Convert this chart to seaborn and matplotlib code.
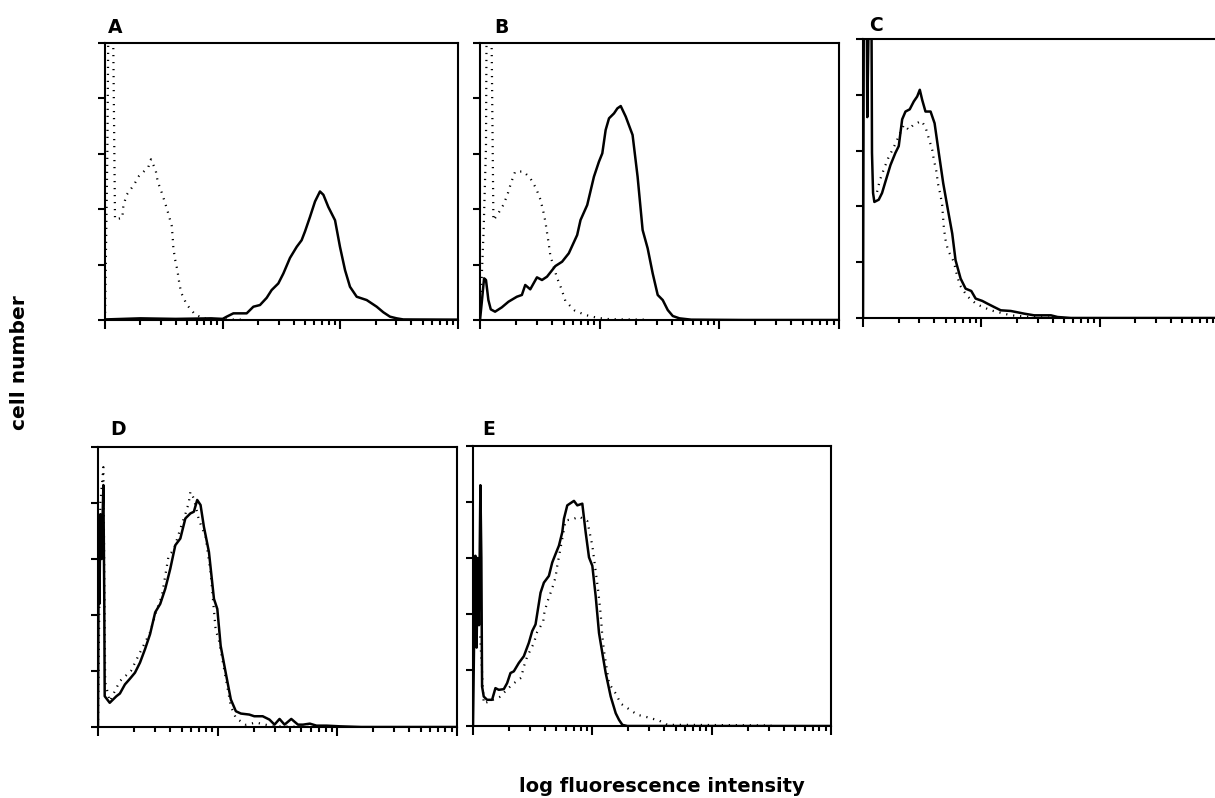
import numpy as np
import pandas as pd
import matplotlib
matplotlib.use("Agg")
import matplotlib.pyplot as plt
import seaborn as sns
from matplotlib.ticker import LogLocator, NullFormatter, FixedLocator

sns.set_theme(style="ticks")
plt.rcParams['font.family'] = ['DejaVu Sans']
plt.rcParams['axes.edgecolor'] = 'black'
plt.rcParams['xtick.color'] = 'black'
plt.rcParams['ytick.color'] = 'black'
plt.rcParams['text.color'] = 'black'

panel_labels = ["A", "B", "C", "D", "E"]
x_label = "log fluorescence intensity"
y_label = "cell number"
y_ticks = [0, 50, 100, 150, 200, 250]

# ---- data: x given in decades of log fluorescence, y = cell number ----
a_solid_log = [0.0, 0.3, 0.6, 0.9, 1.0, 1.034, 1.091, 1.204, 1.261, 1.317, 1.374, 1.416, 1.473, 1.516,
               1.572, 1.629, 1.671, 1.700, 1.742, 1.785, 1.827, 1.856, 1.898, 1.955, 1.997, 2.040,
               2.082, 2.139, 2.224, 2.309, 2.365, 2.422, 2.479, 2.535, 3.0]
a_solid_y = [0.5, 1.5, 1, 1.5, 1, 3, 6, 6, 12, 13.5, 20, 27, 33, 42, 56, 66, 72, 80, 93, 107, 116,
             113, 102, 90, 66, 45, 30, 21, 18, 12, 7, 3, 1.5, 0.5, 0.3]
a_dot_log = [0.0, 0.02, 0.03, 0.065, 0.071, 0.085, 0.147, 0.156, 0.184, 0.246, 0.289, 0.320, 0.368,
             0.391, 0.431, 0.448, 0.482, 0.510, 0.541, 0.567, 0.575, 0.581, 0.595, 0.615, 0.629,
             0.646, 0.694, 0.765, 0.836, 0.949, 1.2]
a_dot_y = [0, 150, 290, 290, 242, 91, 92, 103, 113, 122, 130, 133, 138, 145, 135, 125, 115, 106, 95,
           85, 75, 65, 55, 45, 35, 25, 14, 5, 1.5, 0.6, 0.3]

b_solid_log = [0.0, 0.014, 0.034, 0.050, 0.070, 0.090, 0.126, 0.182, 0.238, 0.308, 0.350, 0.378,
               0.420, 0.476, 0.518, 0.560, 0.630, 0.686, 0.742, 0.812, 0.840, 0.896, 0.952, 0.994,
               1.022, 1.050, 1.078, 1.120, 1.148, 1.176, 1.218, 1.275, 1.317, 1.359, 1.401, 1.443,
               1.485, 1.527, 1.569, 1.611, 1.667, 1.765, 2.2, 3.0]
b_solid_y = [0, 15, 37.6, 36.1, 18, 9.6, 7.5, 11.4, 16.5, 21, 22.6, 31.6, 27.7, 38.5, 36.1, 39.1,
             48.7, 52.6, 60.2, 76.7, 90.2, 103.8, 129.3, 142.9, 150.4, 171.5, 182, 186.5, 191,
             193.1, 183.5, 167, 129.3, 81.2, 64.7, 42.1, 22.6, 18, 9, 3.6, 1.5, 0.3, 0, 0]
b_dot_log = [0.0, 0.03, 0.05, 0.056, 0.09, 0.098, 0.112, 0.146, 0.196, 0.232, 0.260, 0.294, 0.364,
             0.420, 0.468, 0.504, 0.527, 0.546, 0.560, 0.574, 0.588, 0.644, 0.681, 0.714, 0.793,
             0.882, 0.980, 1.064, 1.162, 1.4]
b_dot_y = [0, 80, 156, 290, 290, 242, 90, 95, 104, 114, 124, 134, 134, 128, 119, 109, 99, 89, 79,
           69, 58, 38, 28, 17, 8.4, 4.5, 2, 0.9, 0.6, 0.3]

c_solid_log = [0.0, 0.008, 0.03, 0.036, 0.055, 0.07, 0.076, 0.085, 0.096, 0.133, 0.161, 0.189,
               0.232, 0.274, 0.302, 0.331, 0.359, 0.395, 0.429, 0.458, 0.480, 0.500, 0.528, 0.571,
               0.605, 0.641, 0.678, 0.718, 0.754, 0.782, 0.825, 0.867, 0.915, 0.952, 1.008, 1.051,
               1.107, 1.164, 1.249, 1.362, 1.446, 1.588, 1.644, 1.757, 3.0]
c_solid_y = [0, 320, 320, 180, 320, 320, 148, 112, 104, 106, 112, 122, 137, 148, 154, 178, 185,
             187, 194, 198.5, 204.5, 195.5, 185, 185, 174.5, 147.6, 120.7, 96.7, 75.7, 51.8, 35.3,
             26.3, 24.2, 17.4, 15.3, 12.9, 9.9, 6.9, 6.3, 3.9, 2.4, 2.4, 0.9, 0, 0]
c_dot_log = [0.119, 0.141, 0.175, 0.212, 0.260, 0.345, 0.387, 0.424, 0.494, 0.528, 0.556, 0.585,
             0.599, 0.621, 0.633, 0.655, 0.669, 0.684, 0.698, 0.718, 0.768, 0.791, 0.819, 0.881,
             0.960, 1.079, 1.249, 1.418, 1.7]
c_dot_y = [113, 123, 133, 143, 153, 173, 168.6, 173, 176.6, 171, 161, 150.6, 141.6, 131, 120.7,
           110, 101, 80, 69.8, 60.8, 50.3, 39.8, 29.3, 19.5, 12.3, 6.9, 2.4, 0.9, 0]

d_solid_log = [0.0, 0.006, 0.012, 0.02, 0.03, 0.045, 0.052, 0.056, 0.098, 0.112, 0.154, 0.183,
               0.225, 0.267, 0.309, 0.351, 0.393, 0.435, 0.478, 0.520, 0.562, 0.604, 0.646, 0.688,
               0.730, 0.772, 0.801, 0.829, 0.857, 0.885, 0.927, 0.969, 0.997, 1.025, 1.067, 1.110,
               1.152, 1.194, 1.264, 1.306, 1.376, 1.433, 1.475, 1.517, 1.559, 1.615, 1.671, 1.713,
               1.770, 1.826, 1.910, 2.022, 2.2, 3.0]
d_solid_y = [0, 170, 110, 190, 150, 216, 120, 27.5, 21.6, 23.1, 27.5, 29.9, 38, 43.1, 48.5, 57.5,
             69.5, 82.9, 102.4, 109.9, 123.4, 141.3, 162.3, 168.3, 186.2, 190.7, 192.2, 202.7,
             198.2, 178.7, 156.3, 114.4, 105.4, 72.5, 48.5, 24.6, 14.1, 12, 11.1, 9.6, 9.6, 6.6,
             2.1, 7.2, 2.1, 7.2, 2.1, 2.1, 3, 1.2, 1.2, 0.6, 0, 0]
d_dot_log = [0.0, 0.02, 0.045, 0.06, 0.098, 0.183, 0.275, 0.351, 0.435, 0.492, 0.534, 0.590, 0.632,
             0.697, 0.730, 0.758, 0.772, 0.801, 0.843, 0.899, 0.941, 0.983, 1.011, 1.110, 1.152,
             1.236, 1.320, 1.461, 1.8]
d_dot_y = [0, 200, 232, 40, 23, 41, 50, 66.5, 84.4, 105, 117, 153, 158, 180, 190, 200, 210, 204,
           185, 170, 138, 87, 77, 18.6, 8, 2, 4, 0.6, 0]

e_solid_log = [0.0, 0.012, 0.02, 0.03, 0.04, 0.05, 0.062, 0.07, 0.076, 0.090, 0.118, 0.160, 0.188,
               0.216, 0.258, 0.286, 0.314, 0.342, 0.384, 0.426, 0.468, 0.496, 0.524, 0.566, 0.594,
               0.636, 0.664, 0.692, 0.720, 0.748, 0.762, 0.790, 0.846, 0.874, 0.916, 0.944, 0.972,
               1.000, 1.028, 1.056, 1.084, 1.112, 1.154, 1.196, 1.224, 1.252, 1.294, 3.0]
e_solid_y = [0, 100, 152, 70, 150, 90, 215, 150, 35.3, 26.3, 23.4, 23.4, 33.8, 32.3, 32.9, 38.3,
             47.3, 48.8, 56.3, 62.3, 74.3, 84.7, 90.7, 119, 128, 134, 146, 153.6, 161, 173, 185,
             197, 201, 197, 198.5, 173, 150.6, 143, 116, 83, 65, 47.3, 26.3, 11.4, 5.4, 1, 0, 0]
e_dot_log = [0.06, 0.090, 0.224, 0.328, 0.403, 0.426, 0.454, 0.510, 0.538, 0.588, 0.599, 0.627,
             0.664, 0.692, 0.706, 0.776, 0.846, 0.888, 0.958, 1.000, 1.050, 1.070, 1.084, 1.098,
             1.140, 1.196, 1.238, 1.308, 1.378, 1.462, 1.560, 1.630, 1.798, 2.5]
e_dot_y = [80, 20, 26, 37, 43, 53, 62, 74, 84, 93, 102, 112, 123, 133, 143, 183.5, 185, 187, 183,
           161, 120, 99.7, 80, 66.8, 38, 29, 20, 15, 10, 7.8, 4.8, 1, 1, 0.5]

# ---- layout (figure fractions) ----
W, H = 1215, 798
boxes = {
    "A": (105, 458, 43, 320),
    "B": (480, 839, 43, 320),
    "C": (863, 1218, 39, 318),
    "D": (98, 457, 447, 727),
    "E": (473, 831, 446, 726),
}
label_pos = {"A": (108, 33), "B": (494, 33), "C": (869, 31), "D": (110, 435), "E": (482, 435)}

series = {
    "A": (a_solid_log, a_solid_y, a_dot_log, a_dot_y),
    "B": (b_solid_log, b_solid_y, b_dot_log, b_dot_y),
    "C": (c_solid_log, c_solid_y, c_dot_log, c_dot_y),
    "D": (d_solid_log, d_solid_y, d_dot_log, d_dot_y),
    "E": (e_solid_log, e_solid_y, e_dot_log, e_dot_y),
}

fig = plt.figure(figsize=(W / 100, H / 100), dpi=100)
fig.patch.set_facecolor("white")

for key in panel_labels:
    l, r, t, b = boxes[key]
    ax = fig.add_axes([l / W, 1 - b / H, (r - l) / W, (b - t) / H])
    ax.set_facecolor("white")
    sl, sy, dl, dy = series[key]
    solid = pd.DataFrame({"fl": 10 ** np.asarray(sl, float), "n": sy})
    dot = pd.DataFrame({"fl": 10 ** np.asarray(dl, float), "n": dy})
    sns.lineplot(data=dot, x="fl", y="n", ax=ax, color="black", lw=1.6, sort=False,
                 estimator=None, linestyle=(0, (0.55, 2.6)))
    sns.lineplot(data=solid, x="fl", y="n", ax=ax, color="black", lw=1.8, sort=False,
                 estimator=None)
    ax.set_xscale("log")
    ax.set_xlim(1, 1000)
    ax.set_ylim(0, 250)
    ax.xaxis.set_major_locator(LogLocator(base=10, numticks=10))
    ax.xaxis.set_minor_locator(LogLocator(base=10, subs=np.arange(2, 10), numticks=20))
    ax.xaxis.set_major_formatter(NullFormatter())
    ax.xaxis.set_minor_formatter(NullFormatter())
    ax.yaxis.set_major_locator(FixedLocator(y_ticks))
    ax.set_yticklabels([])
    ax.set_xlabel("")
    ax.set_ylabel("")
    ax.tick_params(axis="x", which="major", direction="out", length=6.5, width=1.5)
    ax.tick_params(axis="x", which="minor", direction="out", length=3.8, width=1.5)
    ax.tick_params(axis="y", which="major", direction="out", length=5, width=1.5)
    for s in ax.spines.values():
        s.set_linewidth(1.5)
        s.set_color("black")
    lx, ly = label_pos[key]
    fig.text(lx / W, 1 - ly / H, key, fontsize=13.5, fontweight="bold", ha="left", va="baseline")

fig.text(662 / W, 1 - 786 / H, x_label, fontsize=14, fontweight="bold", ha="center", va="center")
fig.text(20 / W, 1 - 363 / H, y_label, fontsize=14.5, fontweight="bold", ha="center", va="center",
         rotation=90)

fig.savefig("out.png", dpi=100, facecolor="white")
